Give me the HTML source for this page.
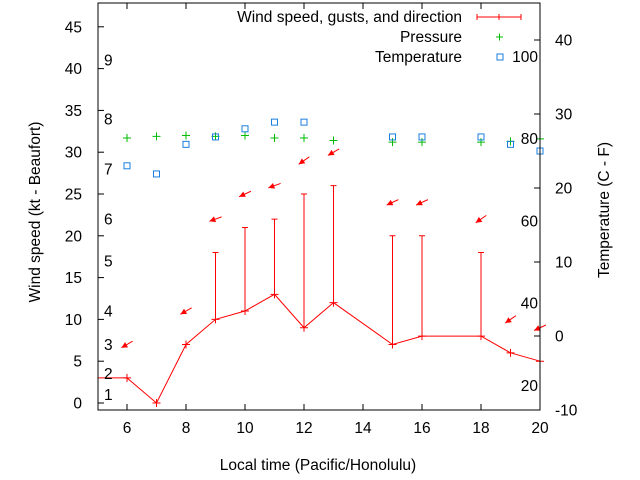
<!DOCTYPE html>
<html><head><meta charset="utf-8"><style>
body{margin:0;background:#fff}
svg{display:block;font-family:"Liberation Sans",sans-serif}
</style></head><body>
<svg id="chart" width="640" height="480" viewBox="0 0 640 480">
<g id="grid"></g>
<g id="marks"></g>
<g id="axes"></g>
</svg>
<script>
const hours=[5,6,7,8,9,10,11,12,13,15,16,18,19,20];
const windSpeed=[3,3,0,7,10,11,13,9,12,7,8,8,6,5];
const windGust=[null,null,null,null,18,21,22,25,26,20,20,18,null,null];
const windDirDeg=[null,60,null,60,70,65,70,55,60,65,65,55,55,65];
const pressHours=[6,7,8,9,10,11,12,13,15,16,18,19,20];
const pressure=[31.7,31.9,32,31.9,32,31.7,31.7,31.4,31.2,31.2,31.2,31.3,31.6];
const tempHours=[6,7,8,9,10,11,12,15,16,18,19,20];
const tempC=[23,21.9,25.9,26.9,28,28.9,28.9,26.9,26.9,26.9,25.9,25];
const xTicks=[6,8,10,12,14,16,18,20];
const yTicks=[0,5,10,15,20,25,30,35,40,45];
const tTicks=[-10,0,10,20,30,40];
const beaufort=[[1,1],[2,3.5],[3,7],[4,11],[5,17],[6,22],[7,28],[8,34],[9,41]];
const fTicks=[20,40,60,80,100];

const FS=15.5;
const L=98,R=540,T=3,B=410;
const X=t=>97.5+(t-5)*29.5;
const YL=v=>403-v*8.36;
const YT=c=>336-c*7.4;
const NS='http://www.w3.org/2000/svg';
const marks=document.getElementById('marks'),axes=document.getElementById('axes');
function mk(p,tag,a,txt){const e=document.createElementNS(NS,tag);for(const k in a)e.setAttribute(k,a[k]);if(txt!==undefined)e.textContent=txt;p.appendChild(e);return e;}

let e=mk(axes,'rect',{x:L,y:T,width:R-L,height:B-T,fill:'none',stroke:'#000','stroke-width':1});

xTicks.forEach(t=>{
 mk(axes,'line',{x1:X(t),y1:B,x2:X(t),y2:B-6,stroke:'#000'});
 mk(axes,'line',{x1:X(t),y1:T,x2:X(t),y2:T+6,stroke:'#000'});
 e=mk(axes,'text',{x:X(t),y:B+23,'text-anchor':'middle','font-size':FS},t);
 
});
yTicks.forEach(v=>{
 mk(axes,'line',{x1:L,y1:YL(v),x2:L+6,y2:YL(v),stroke:'#000'});
 e=mk(axes,'text',{x:L-16,y:YL(v)+5.5,'text-anchor':'end','font-size':FS},v);
 
});
tTicks.forEach(c=>{
 mk(axes,'line',{x1:R,y1:YT(c),x2:R-6,y2:YT(c),stroke:'#000'});
 e=mk(axes,'text',{x:R+15,y:YT(c)+5.5,'font-size':FS},c);
 
});
beaufort.forEach(([b,v])=>{
 e=mk(axes,'text',{x:104,y:YL(v)+5.5,'font-size':FS},b);
 
});
fTicks.forEach(f=>{
 const c=(f-32)*5/9;
 e=mk(axes,'text',{x:538,y:YT(c)+5.5,'text-anchor':'end','font-size':FS},f);
 
});
e=mk(axes,'text',{x:318,y:470,'text-anchor':'middle','font-size':FS},'Local time (Pacific/Honolulu)');

e=mk(axes,'text',{x:0,y:0,'text-anchor':'middle','font-size':FS,transform:'translate(40,212) rotate(-90)'},'Wind speed (kt - Beaufort)');

e=mk(axes,'text',{x:0,y:0,'text-anchor':'middle','font-size':FS,transform:'translate(609,210) rotate(-90)'},'Temperature (C - F)');


e=mk(marks,'polyline',{points:hours.map((h,i)=>X(h)+','+YL(windSpeed[i])).join(' '),fill:'none',stroke:'#f00','stroke-width':1});

hours.forEach((h,i)=>{
 const x=X(h),y=YL(windSpeed[i]);
 if(h>5){
  e=mk(marks,'path',{d:`M${x-4},${y}h8M${x},${y-4}v8`,stroke:'#f00'});
  
 }
 if(windGust[i]!=null){
  const g=YL(windGust[i]);
  e=mk(marks,'path',{d:`M${x},${y}V${g}M${x-3},${g}h6`,stroke:'#f00'});
  
 }
 if(windDirDeg[i]!=null){
  const top=Math.max(windSpeed[i],windGust[i]||0)+4;
  const cx=x,cy=YL(top),a=windDirDeg[i]*Math.PI/180,len=13;
  const dx=Math.sin(a),dy=-Math.cos(a);
  const tx=cx+dx*len/2,ty=cy+dy*len/2,hx=cx-dx*len/2,hy=cy-dy*len/2;
  const px=-dy,py=dx;
  e=mk(marks,'g',{});
  
  mk(e,'line',{x1:tx,y1:ty,x2:hx,y2:hy,stroke:'#f00'});
  mk(e,'polygon',{points:`${hx},${hy} ${hx+dx*6+px*3},${hy+dy*6+py*3} ${hx+dx*6-px*3},${hy+dy*6-py*3}`,fill:'#f00'});
 }
});
pressHours.forEach((h,i)=>{
 const x=X(h),y=YL(pressure[i]);
 e=mk(marks,'path',{d:`M${x-4},${y}h8M${x},${y-4}v8`,stroke:'#0b0'});
 
});
tempHours.forEach((h,i)=>{
 const x=X(h),y=YT(tempC[i]);
 e=mk(marks,'rect',{x:x-3,y:y-3,width:6,height:6,fill:'none',stroke:'#1a7fe0'});
 
});

e=mk(axes,'g',{});
const lg=e;
mk(lg,'text',{x:462,y:22,'text-anchor':'end','font-size':FS},'Wind speed, gusts, and direction');
mk(lg,'path',{d:'M477,17h44M477,14v6M499,14v6M521,14v6',stroke:'#f00'});
mk(lg,'text',{x:462,y:42,'text-anchor':'end','font-size':FS},'Pressure');
mk(lg,'path',{d:'M496,37h7M499.5,33.5v7',stroke:'#0b0'});
mk(lg,'text',{x:462,y:62,'text-anchor':'end','font-size':FS},'Temperature');
mk(lg,'rect',{x:497,y:54,width:6,height:6,fill:'none',stroke:'#1a7fe0'});
</script>
</body></html>
